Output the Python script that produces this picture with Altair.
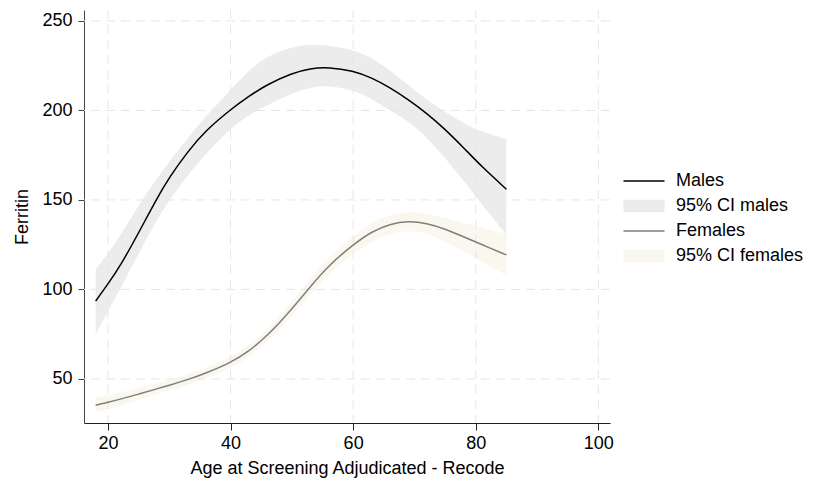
import altair as alt
import pandas as pd

# ---- data ----
AGES = [18, 20, 22, 25, 28, 30, 33, 36, 40, 43, 46, 50, 53, 56, 60, 63, 66, 69, 72, 75, 78, 81, 85]

MALE_MEAN = [93.5, 103, 113, 131.5, 151, 162.5, 177, 189, 200.5, 208, 214.5, 220.8, 223.5, 224.2,
             222.2, 218.3, 212.8, 206, 198.5, 189.5, 179.3, 168.5, 156]
MALE_LO = [75, 88, 100, 120, 139, 150, 163.5, 176, 190, 197.5, 203, 209.5, 213, 214,
           211.5, 206.5, 200, 194, 185, 173.5, 161, 147.5, 130.5]
MALE_HI = [111, 120, 130, 147, 162, 171.5, 184.5, 197, 211.5, 222.5, 230.5, 235.5, 236.8, 236.3,
           234, 229.5, 222.5, 214, 206, 199, 193, 188, 184]

FEMALE_MEAN = [35.3, 37, 38.7, 41.5, 44.5, 46.5, 49.5, 53.3, 59, 65.5, 74, 89, 101.5, 113.5,
               125, 132.3, 136.6, 138.3, 137, 133.8, 129.5, 125, 119.3]
FEMALE_LO = [31.5, 33, 35, 38, 41.5, 43.5, 46.5, 50.3, 56, 62.5, 70.5, 85, 97, 109,
             120, 127, 131.3, 133, 131.5, 127, 121.5, 115.5, 108]
FEMALE_HI = [39.5, 41, 42.5, 45, 47.5, 49.5, 52.5, 56.3, 62, 68.5, 77.5, 93, 106, 118,
             130, 137.5, 142, 143.5, 142.3, 140, 137, 134.3, 131]

X_TICKS = [20, 40, 60, 80, 100]
Y_TICKS = [50, 100, 150, 200, 250]

LEGEND_LABELS = ["Males", "95% CI males", "Females", "95% CI females"]
LEGEND_COLORS = ["#000000", "#ececec", "#7f7f7f", "#faf7ee"]
LINE_PATH = "M-2.05,-0.075H2.05V0.075H-2.05Z"
RECT_PATH = "M-2.05,-0.62H2.05V0.62H-2.05Z"
LEGEND_SHAPES = [LINE_PATH, RECT_PATH, LINE_PATH, RECT_PATH]

FONT = "Liberation Sans"
FS = 18
GRID_COLOR = "#e6e6e6"
GRID_DASH = [9, 6]

male = pd.DataFrame({"age": AGES, "mean": MALE_MEAN, "lo": MALE_LO, "hi": MALE_HI})
female = pd.DataFrame({"age": AGES, "mean": FEMALE_MEAN, "lo": FEMALE_LO, "hi": FEMALE_HI})
legend_df = pd.DataFrame({"label": LEGEND_LABELS})
xgrid_df = pd.DataFrame({"gx": X_TICKS})
ygrid_df = pd.DataFrame({"gy": Y_TICKS})

xscale = alt.Scale(domain=[16.1, 101.9], nice=False, zero=False)
yscale = alt.Scale(domain=[25.4, 256.1], nice=False, zero=False)

x_axis = alt.Axis(values=X_TICKS, title="Age at Screening Adjudicated - Recode",
                  grid=False, tickSize=7, tickColor="#222", domainColor="#222",
                  labelPadding=4, titlePadding=7, labelFlush=False)
y_axis = alt.Axis(values=Y_TICKS, title="Ferritin",
                  grid=False, tickSize=6, tickColor="#444", domainColor="#444",
                  labelPadding=6, titlePadding=10)

X = alt.X("age:Q", scale=xscale, axis=x_axis)
INTERP = "basis"

male_ci = alt.Chart(male).mark_area(color=LEGEND_COLORS[1], interpolate=INTERP).encode(
    x=X, y=alt.Y("lo:Q", scale=yscale, axis=y_axis), y2="hi:Q")
female_ci = alt.Chart(female).mark_area(color=LEGEND_COLORS[3], interpolate=INTERP).encode(
    x=X, y=alt.Y("lo:Q", scale=yscale, axis=y_axis), y2="hi:Q")

# grid drawn above the confidence bands, below the lines
xgrid = alt.Chart(xgrid_df).mark_rule(color=GRID_COLOR, strokeDash=GRID_DASH, strokeWidth=1).encode(
    x=alt.X("gx:Q", scale=xscale, axis=x_axis))
ygrid = alt.Chart(ygrid_df).mark_rule(color=GRID_COLOR, strokeDash=GRID_DASH, strokeWidth=1).encode(
    y=alt.Y("gy:Q", scale=yscale, axis=y_axis))

male_line = alt.Chart(male).mark_line(color=LEGEND_COLORS[0], strokeWidth=1.5,
                                      interpolate=INTERP).encode(
    x=X, y=alt.Y("mean:Q", scale=yscale, axis=y_axis))
female_line = alt.Chart(female).mark_line(color=LEGEND_COLORS[2], strokeWidth=1.5,
                                          interpolate=INTERP).encode(
    x=X, y=alt.Y("mean:Q", scale=yscale, axis=y_axis))

leg = alt.Legend(orient="none", legendX=550, legendY=161, symbolSize=400,
                 symbolStrokeWidth=0, symbolOpacity=1, labelFontSize=FS, labelFont=FONT,
                 labelColor="#000", labelOffset=22, rowPadding=6, padding=0)

legend_layer = alt.Chart(legend_df).mark_point(filled=True, opacity=0).encode(
    color=alt.Color("label:N", scale=alt.Scale(domain=LEGEND_LABELS, range=LEGEND_COLORS),
                    legend=leg, title=None),
    shape=alt.Shape("label:N", scale=alt.Scale(domain=LEGEND_LABELS, range=LEGEND_SHAPES),
                    legend=leg, title=None),
)

chart = alt.layer(male_ci, female_ci, xgrid, ygrid, male_line, female_line, legend_layer).properties(
    width=526, height=413,
    padding={"left": 76, "top": 2, "right": 204, "bottom": 63},
    autosize=alt.AutoSizeParams(type="none"),
    background="white",
).configure_view(stroke=None).configure_axis(
    labelFont=FONT, titleFont=FONT, labelFontSize=FS, titleFontSize=FS,
    labelColor="#000", titleColor="#000", titleFontWeight="normal",
)

chart.save("out.html", embed_options={"renderer": "svg", "actions": False})
